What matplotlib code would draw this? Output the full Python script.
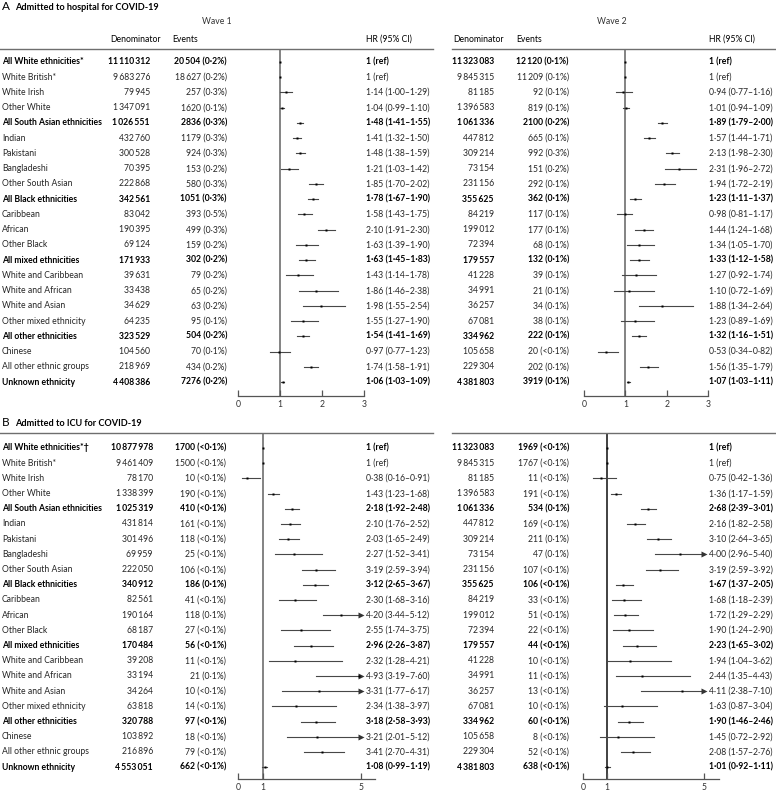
import matplotlib
matplotlib.use("Agg")
import matplotlib.pyplot as plt

plt.rcParams['font.family'] = ['Lato', 'DejaVu Sans']

# row labels (same for both panels, except the first one in B)
labels = ["All White ethnicities*", "White British*", "White Irish", "Other White",
          "All South Asian ethnicities", "Indian", "Pakistani", "Bangladeshi",
          "Other South Asian", "All Black ethnicities", "Caribbean", "African",
          "Other Black", "All mixed ethnicities", "White and Caribbean",
          "White and African", "White and Asian", "Other mixed ethnicity",
          "All other ethnicities", "Chinese", "All other ethnic groups",
          "Unknown ethnicity"]
labels_b = ["All White ethnicities*\u2020"] + labels[1:]
bold_rows = [0, 4, 9, 13, 18, 21]

# A - hospital, wave 1
a1_denom = [11110312, 9683276, 79945, 1347091, 1026551, 432760, 300528, 70395, 222868,
            342561, 83042, 190395, 69124, 171933, 39631, 33438, 34629, 64235, 323529,
            104560, 218969, 4408386]
a1_events = [20504, 18627, 257, 1620, 2836, 1179, 924, 153, 580, 1051, 393, 499, 159,
             302, 79, 65, 63, 95, 504, 70, 434, 7276]
a1_pct = ["0·2", "0·2", "0·3", "0·1", "0·3", "0·3", "0·3", "0·2", "0·3", "0·3", "0·5",
          "0·3", "0·2", "0·2", "0·2", "0·2", "0·2", "0·1", "0·2", "0·1", "0·2", "0·2"]
a1_hr = [1, 1, 1.14, 1.04, 1.48, 1.41, 1.48, 1.21, 1.85, 1.78, 1.58, 2.10, 1.63, 1.63,
         1.43, 1.86, 1.98, 1.55, 1.54, 0.97, 1.74, 1.06]
a1_lo = [None, None, 1.00, 0.99, 1.41, 1.32, 1.38, 1.03, 1.70, 1.67, 1.43, 1.91, 1.39,
         1.45, 1.14, 1.46, 1.55, 1.27, 1.41, 0.77, 1.58, 1.03]
a1_hi = [None, None, 1.29, 1.10, 1.55, 1.50, 1.59, 1.42, 2.02, 1.90, 1.75, 2.30, 1.90,
         1.83, 1.78, 2.38, 2.54, 1.90, 1.69, 1.23, 1.91, 1.09]

# A - hospital, wave 2
a2_denom = [11323083, 9845315, 81185, 1396583, 1061336, 447812, 309214, 73154, 231156,
            355625, 84219, 199012, 72394, 179557, 41228, 34991, 36257, 67081, 334962,
            105658, 229304, 4381803]
a2_events = [12120, 11209, 92, 819, 2100, 665, 992, 151, 292, 362, 117, 177, 68, 132,
             39, 21, 34, 38, 222, 20, 202, 3919]
a2_pct = ["0·1", "0·1", "0·1", "0·1", "0·2", "0·1", "0·3", "0·2", "0·1", "0·1", "0·1",
          "0·1", "0·1", "0·1", "0·1", "0·1", "0·1", "0·1", "0·1", "<0·1", "0·1", "0·1"]
a2_hr = [1, 1, 0.94, 1.01, 1.89, 1.57, 2.13, 2.31, 1.94, 1.23, 0.98, 1.44, 1.34, 1.33,
         1.27, 1.10, 1.88, 1.23, 1.32, 0.53, 1.56, 1.07]
a2_lo = [None, None, 0.77, 0.94, 1.79, 1.44, 1.98, 1.96, 1.72, 1.11, 0.81, 1.24, 1.05,
         1.12, 0.92, 0.72, 1.34, 0.89, 1.16, 0.34, 1.35, 1.03]
a2_hi = [None, None, 1.16, 1.09, 2.00, 1.71, 2.30, 2.72, 2.19, 1.37, 1.17, 1.68, 1.70,
         1.58, 1.74, 1.69, 2.64, 1.69, 1.51, 0.82, 1.79, 1.11]

# B - ICU, wave 1
b1_denom = [10877978, 9461409, 78170, 1338399, 1025319, 431814, 301496, 69959, 222050,
            340912, 82561, 190164, 68187, 170484, 39208, 33194, 34264, 63818, 320788,
            103892, 216896, 4553051]
b1_events = [1700, 1500, 10, 190, 410, 161, 118, 25, 106, 186, 41, 118, 27, 56, 11, 21,
             10, 14, 97, 18, 79, 662]
b1_pct = ["<0·1", "<0·1", "<0·1", "<0·1", "<0·1", "<0·1", "<0·1", "<0·1", "<0·1", "0·1",
          "<0·1", "0·1", "<0·1", "<0·1", "<0·1", "0·1", "<0·1", "<0·1", "<0·1", "<0·1",
          "<0·1", "<0·1"]
b1_hr = [1, 1, 0.38, 1.43, 2.18, 2.10, 2.03, 2.27, 3.19, 3.12, 2.30, 4.20, 2.55, 2.96,
         2.32, 4.93, 3.31, 2.34, 3.18, 3.21, 3.41, 1.08]
b1_lo = [None, None, 0.16, 1.23, 1.92, 1.76, 1.65, 1.52, 2.59, 2.65, 1.68, 3.44, 1.74,
         2.26, 1.28, 3.19, 1.77, 1.38, 2.58, 2.01, 2.70, 0.99]
b1_hi = [None, None, 0.91, 1.68, 2.48, 2.52, 2.49, 3.41, 3.94, 3.67, 3.16, 5.12, 3.75,
         3.87, 4.21, 7.60, 6.17, 3.97, 3.93, 5.12, 4.31, 1.19]

# B - ICU, wave 2
b2_denom = a2_denom
b2_events = [1969, 1767, 11, 191, 534, 169, 211, 47, 107, 106, 33, 51, 22, 44, 10, 11,
             13, 10, 60, 8, 52, 638]
b2_pct = ["<0·1", "<0·1", "<0·1", "<0·1", "0·1", "<0·1", "0·1", "0·1", "<0·1", "<0·1",
          "<0·1", "<0·1", "<0·1", "<0·1", "<0·1", "<0·1", "<0·1", "<0·1", "<0·1", "<0·1",
          "<0·1", "<0·1"]
b2_hr = [1, 1, 0.75, 1.36, 2.68, 2.16, 3.10, 4.00, 3.19, 1.67, 1.68, 1.72, 1.90, 2.23,
         1.94, 2.44, 4.11, 1.63, 1.90, 1.45, 2.08, 1.01]
b2_lo = [None, None, 0.42, 1.17, 2.39, 1.82, 2.64, 2.96, 2.59, 1.37, 1.18, 1.29, 1.24,
         1.65, 1.04, 1.35, 2.38, 0.87, 1.46, 0.72, 1.57, 0.92]
b2_hi = [None, None, 1.36, 1.59, 3.01, 2.58, 3.65, 5.40, 3.92, 2.05, 2.39, 2.29, 2.90,
         3.02, 3.62, 4.43, 7.10, 3.04, 2.46, 2.92, 2.76, 1.11]

W, H = 776, 795
fig = plt.figure(figsize=(W / 100, H / 100), dpi=100)
FS = 6.2


def fx(x):
    return x / W


def fy(y):
    return 1 - y / H


def num(n):
    s = f"{n:,}"
    if n >= 10000:
        return s.replace(",", "\u2009")
    return s.replace(",", "")


def dec(v):
    return f"{v:.2f}".replace(".", "·")


def txt(x, y, s, ha="left", bold=False, size=FS, color=None):
    if color is None:
        color = "black" if bold else "#262626"
    fig.text(fx(x), fy(y), s, ha=ha, va="center", fontsize=size,
             fontweight="bold" if bold else "normal", color=color)


def table(row0, step, lab, denom, events, pct, hr, lo, hi, xd, xe, xh, first):
    for i in range(len(lab)):
        y = row0 + i * step
        b = i in bold_rows
        if first:
            txt(2, y, lab[i], bold=b)
        txt(xd, y, num(denom[i]), ha="right", bold=b)
        txt(xe, y, f"{num(events[i])} ({pct[i]}%)", ha="right", bold=b)
        if lo[i] is None:
            s = "1 (ref)"
        else:
            s = f"{dec(hr[i])} ({dec(lo[i])}\u2013{dec(hi[i])})"
        txt(xh, y, s, bold=b)


def forest(x0, ppu, xmax, top, bottom, row0, step, hr, lo, hi, ticks, clip=None,
           refcol="#7a7a7a"):
    ax = fig.add_axes([fx(x0), fy(bottom), xmax * ppu / W, (bottom - top) / H])
    ax.set_xlim(0, xmax)
    ax.set_ylim((bottom - row0) / step, (top - row0) / step)
    ax.axvline(1, color=refcol, lw=1.3, zorder=1)
    for i in range(len(hr)):
        if lo[i] is not None:
            h = hi[i]
            if clip is not None and h > clip:
                h = clip
                ax.plot(clip, i, marker=">", ms=5, color="#333333", mec="none", zorder=3)
            ax.plot([lo[i], h], [i, i], color="#474747", lw=0.8, zorder=2)
        ax.plot(hr[i], i, marker="s", ms=2.1, color="black", mec="none", zorder=4)
    for sp in ["top", "left", "right"]:
        ax.spines[sp].set_visible(False)
    ax.spines["bottom"].set_color("#555555")
    ax.spines["bottom"].set_linewidth(0.9)
    ax.set_yticks([])
    ax.set_xticks(ticks)
    ax.set_xticklabels([str(t) for t in ticks])
    ax.tick_params(axis="x", direction="in", length=4, width=0.9, color="#555555",
                   labelsize=FS, labelcolor="#333333", pad=3)
    ax.patch.set_alpha(0)
    return ax


# ---- panel A ----
txt(2, 7, "A", size=8.5, color="black")
txt(15, 7.5, "Admitted to hospital for COVID-19", bold=True, size=6.6)
txt(217, 22, "Wave 1", ha="center", color="#333333")
txt(612, 22, "Wave 2", ha="center", color="#333333")
for xd, xe, xh in [(110, 172, 366), (453, 516, 709)]:
    txt(xd, 39, "Denominator", color="black")
    txt(xe, 39, "Events", color="black")
    txt(xh, 39, "HR (95% CI)", color="black")
fig.add_artist(plt.Line2D([0, fx(433)], [fy(49), fy(49)], color="#6e6e6e", lw=1))
fig.add_artist(plt.Line2D([fx(452), 1], [fy(49), fy(49)], color="#6e6e6e", lw=1))

rA, sA = 62, 15.24
table(rA, sA, labels, a1_denom, a1_events, a1_pct, a1_hr, a1_lo, a1_hi, 150, 227, 366, True)
table(rA, sA, labels, a2_denom, a2_events, a2_pct, a2_hr, a2_lo, a2_hi, 494, 569, 709, False)
forest(238, 42, 3, 50, 396, rA, sA, a1_hr, a1_lo, a1_hi, [0, 1, 2, 3])
forest(584, 41.33, 3, 50, 396, rA, sA, a2_hr, a2_lo, a2_hi, [0, 1, 2, 3])

# ---- panel B ----
txt(2, 423, "B", size=8.5, color="black")
txt(15, 423.5, "Admitted to ICU for COVID-19", bold=True, size=6.6)
fig.add_artist(plt.Line2D([0, fx(433)], [fy(433), fy(433)], color="#6e6e6e", lw=1))
fig.add_artist(plt.Line2D([fx(452), 1], [fy(433), fy(433)], color="#6e6e6e", lw=1))

rB, sB = 448, 15.2
table(rB, sB, labels_b, b1_denom, b1_events, b1_pct, b1_hr, b1_lo, b1_hi, 153, 226, 366, True)
table(rB, sB, labels_b, b2_denom, b2_events, b2_pct, b2_hr, b2_lo, b2_hi, 494, 569, 709, False)
forest(238, 24.6, 5.55, 434, 779, rB, sB, b1_hr, b1_lo, b1_hi, [0, 1, 5], clip=5)
forest(583, 24.2, 5.6, 434, 779, rB, sB, b2_hr, b2_lo, b2_hi, [0, 1, 5], clip=5,
       refcol="#333333")

fig.savefig("out.png", dpi=100)
